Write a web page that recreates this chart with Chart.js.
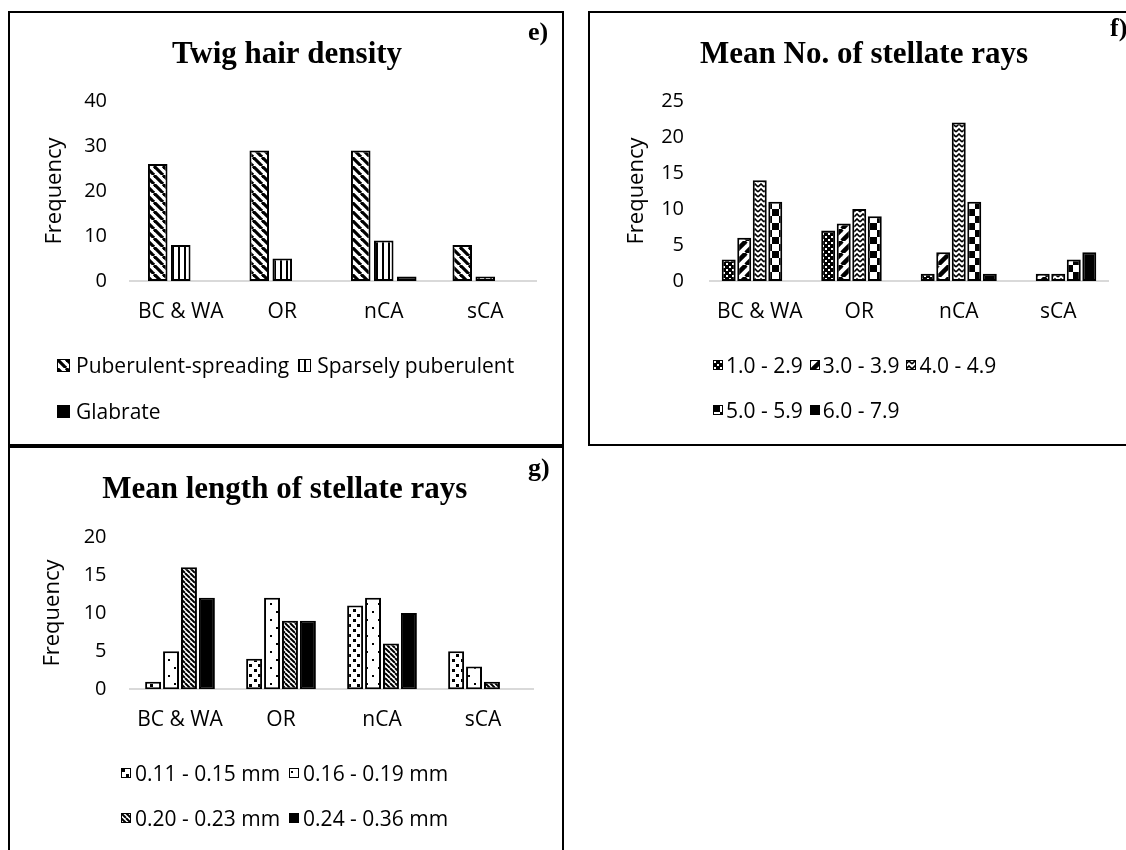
<!DOCTYPE html>
<html>
<head>
<meta charset="utf-8">
<script src="https://cdn.jsdelivr.net/npm/chart.js@4.4.0/dist/chart.umd.min.js"></script>
<style>
  html, body { margin: 0; padding: 0; background: #fff; overflow: hidden; width: 1126px; height: 850px; }
  .panel { position: absolute; border: 2px solid #000; box-sizing: border-box; background: #fff; }
  .panel > canvas { position: absolute; left: 0; top: 0; }
  .tag { position: absolute; font: bold 26px/26px "Liberation Serif", serif; color: #000; }
  .legend { position: absolute; font-family: "Open Sans", sans-serif; font-size: 21px; color: #000; }
  .legend .row { display: flex; align-items: center; white-space: nowrap; }
  .legend .item { display: inline-flex; align-items: center; }
  .legend canvas { display: block; }
</style>
</head>
<body>
<div class="panel" id="pe" style="left:8px;top:11px;width:556px;height:435px;">
  <canvas id="chartE" width="552" height="431"></canvas>
  <div class="tag" style="left:518px;top:6px;">e)</div>
  <div class="legend" id="legE" style="left:47px;top:329px;"></div>
</div>
<div class="panel" id="pf" style="left:588px;top:11px;width:600px;height:435px;">
  <canvas id="chartF" width="596" height="431"></canvas>
  <div class="tag" style="left:520px;top:2px;">f)</div>
  <div class="legend" id="legF" style="left:123px;top:329px;"></div>
</div>
<div class="panel" id="pg" style="left:8px;top:446px;width:556px;height:420px;">
  <canvas id="chartG" width="552" height="416"></canvas>
  <div class="tag" style="left:518px;top:7px;">g)</div>
  <div class="legend" id="legG" style="left:111px;top:302px;"></div>
</div>
<script>
// categorias comuns aos três gráficos
const regions = ['BC & WA', 'OR', 'nCA', 'sCA'];

// e) Twig hair density
const twigLabels = ['Puberulent-spreading', 'Sparsely puberulent', 'Glabrate'];
const twigPuberulent = [26, 29, 29, 8];
const twigSparse = [8, 5, 9, 1];
const twigGlabrate = [0, 0, 1, 0];
const twigMax = 40, twigStep = 10;

// f) Mean No. of stellate rays
const rayNoLabels = ['1.0 - 2.9', '3.0 - 3.9', '4.0 - 4.9', '5.0 - 5.9', '6.0 - 7.9'];
const rayNo1 = [3, 7, 1, 0];
const rayNo3 = [6, 8, 4, 1];
const rayNo4 = [14, 10, 22, 1];
const rayNo5 = [11, 9, 11, 3];
const rayNo6 = [0, 0, 1, 4];
const rayNoMax = 25, rayNoStep = 5;

// g) Mean length of stellate rays
const rayLenLabels = ['0.11 - 0.15 mm', '0.16 - 0.19 mm', '0.20 - 0.23 mm', '0.24 - 0.36 mm'];
const rayLen11 = [1, 4, 11, 5];
const rayLen16 = [5, 12, 12, 3];
const rayLen20 = [16, 9, 6, 1];
const rayLen24 = [12, 9, 10, 0];
const rayLenMax = 20, rayLenStep = 5;

// --- padrões de preenchimento (estilo Excel) ---
function tile(w, h, draw) {
  const c = document.createElement('canvas');
  c.width = w; c.height = h;
  const g = c.getContext('2d');
  g.fillStyle = '#fff';
  g.fillRect(0, 0, w, h);
  g.fillStyle = '#000';
  g.strokeStyle = '#000';
  draw(g, w, h);
  return c;
}
function diagDown(s, lw) {
  return tile(s, s, (g) => {
    g.lineWidth = lw;
    for (let x0 = -s; x0 <= s; x0 += s) {
      g.beginPath(); g.moveTo(x0, 0); g.lineTo(x0 + s, s); g.stroke();
    }
  });
}
function diagUp(s, lw) {
  return tile(s, s, (g) => {
    g.lineWidth = lw;
    for (let x0 = -s; x0 <= s; x0 += s) {
      g.beginPath(); g.moveTo(x0, s); g.lineTo(x0 + s, 0); g.stroke();
    }
  });
}
const tiles = {
  wideDown: diagDown(9, 3.2),
  vertical: tile(6, 6, (g) => { g.fillRect(0, 0, 2, 6); }),
  darkDots: tile(6, 6, (g) => { g.fillRect(0, 0, 6, 6); g.fillStyle = '#fff'; g.fillRect(1, 1, 2, 2); g.fillRect(4, 4, 2, 2); }),
  wideUp: diagUp(12, 4.5),
  zigzag: tile(6, 5, (g) => { g.lineWidth = 1.6; g.beginPath(); g.moveTo(0, 4); g.lineTo(3, 1); g.lineTo(6, 4); g.stroke(); }),
  checker: tile(14, 14, (g) => { g.fillRect(0, 0, 7, 7); g.fillRect(7, 7, 7, 7); }),
  confetti: tile(9, 10, (g) => { g.fillRect(1, 1, 3, 3); g.fillRect(5, 6, 3, 3); }),
  sparseDots: tile(12, 16, (g) => { g.fillRect(2, 3, 2, 2); g.fillRect(8, 11, 2, 2); }),
  thinDown: diagDown(5, 2),
  solid: null
};
function fillFor(ctx, name) {
  return tiles[name] ? ctx.createPattern(tiles[name], 'repeat') : '#000';
}
const helperCtx = document.createElement('canvas').getContext('2d');

const twigFills = ['wideDown', 'vertical', 'solid'];
const rayNoFills = ['darkDots', 'wideUp', 'zigzag', 'checker', 'solid'];
const rayLenFills = ['confetti', 'sparseDots', 'thinDown', 'solid'];

function makeDatasets(labels, series, fills) {
  return series.map((data, i) => ({
    label: labels[i],
    data: data,
    backgroundColor: fillFor(helperCtx, fills[i]),
    borderColor: '#000',
    borderWidth: 2,
    borderSkipped: false
  }));
}

function buildLegend(id, labels, fills, rows, box, boxGap, itemGap, rowH) {
  const el = document.getElementById(id);
  rows.forEach(idxs => {
    const row = document.createElement('div');
    row.className = 'row';
    row.style.height = rowH + 'px';
    idxs.forEach(i => {
      const item = document.createElement('span');
      item.className = 'item';
      item.style.marginRight = itemGap + 'px';
      const sw = document.createElement('canvas');
      sw.width = box; sw.height = box;
      sw.style.marginRight = boxGap + 'px';
      const g = sw.getContext('2d');
      g.fillStyle = fillFor(g, fills[i]);
      g.fillRect(0, 0, box, box);
      g.strokeStyle = '#000'; g.lineWidth = 1;
      g.strokeRect(0.5, 0.5, box - 1, box - 1);
      const txt = document.createElement('span');
      txt.textContent = labels[i];
      item.appendChild(sw);
      item.appendChild(txt);
      row.appendChild(item);
    });
    el.appendChild(row);
  });
}

function makeChart(id, title, datasets, cfg) {
  return new Chart(document.getElementById(id), {
    type: 'bar',
    data: { labels: regions, datasets: datasets },
    options: {
      responsive: false,
      animation: false,
      layout: { padding: { left: cfg.padLeft, right: cfg.padRight, top: 0, bottom: cfg.padBottom } },
      datasets: { bar: { categoryPercentage: cfg.catPct, barPercentage: cfg.barPct } },
      scales: {
        x: {
          grid: { display: false, drawTicks: false },
          border: { display: true, color: '#d9d9d9', width: 2 },
          ticks: { color: '#000', padding: 18, font: { family: 'Open Sans', size: 21 } },
          afterFit: (scale) => { scale.height = 44; }
        },
        y: {
          min: 0, max: cfg.max,
          grid: { display: false, drawTicks: false },
          border: { display: false },
          ticks: { stepSize: cfg.step, color: '#000', padding: cfg.tickPad, font: { family: 'Open Sans', size: 20 } },
          title: { display: true, text: 'Frequency', color: '#000', padding: { top: 4, bottom: 4 }, font: { family: 'Open Sans', size: 22 } },
          afterFit: (scale) => { scale.width = cfg.axisW; }
        }
      },
      plugins: {
        legend: { display: false },
        tooltip: { enabled: false },
        title: {
          display: true, text: title, color: '#000',
          font: { family: 'Liberation Serif', size: 31, weight: 'bold' },
          padding: { top: 23.4, bottom: cfg.titleBottom }
        }
      }
    }
  });
}

makeChart('chartE', 'Twig hair density',
  makeDatasets(twigLabels, [twigPuberulent, twigSparse, twigGlabrate], twigFills),
  { padLeft: 28, padRight: 26, padBottom: 119, axisW: 92, tickPad: 23, max: twigMax, step: twigStep, catPct: 0.68, barPct: 0.85, titleBottom: 27.4 });

makeChart('chartF', 'Mean No. of stellate rays',
  makeDatasets(rayNoLabels, [rayNo1, rayNo3, rayNo4, rayNo5, rayNo6], rayNoFills),
  { padLeft: 30, padRight: 78, padBottom: 119, axisW: 90, tickPad: 26, max: rayNoMax, step: rayNoStep, catPct: 0.78, barPct: 0.9, titleBottom: 27.4 });

makeChart('chartG', 'Mean length of stellate rays',
  makeDatasets(rayLenLabels, [rayLen11, rayLen16, rayLen20, rayLen24], rayLenFills),
  { padLeft: 26, padRight: 28.5, padBottom: 130.7, axisW: 93.5, tickPad: 23, max: rayLenMax, step: rayLenStep, catPct: 0.71, barPct: 0.89, titleBottom: 28.2 });

buildLegend('legE', twigLabels, twigFills, [[0, 1], [2]], 13, 6, 9, 46);
buildLegend('legF', rayNoLabels, rayNoFills, [[0, 1, 2], [3, 4]], 10, 3, 7, 45);
buildLegend('legG', rayLenLabels, rayLenFills, [[0, 1], [2, 3]], 10, 4, 9, 45);
</script>
</body>
</html>
